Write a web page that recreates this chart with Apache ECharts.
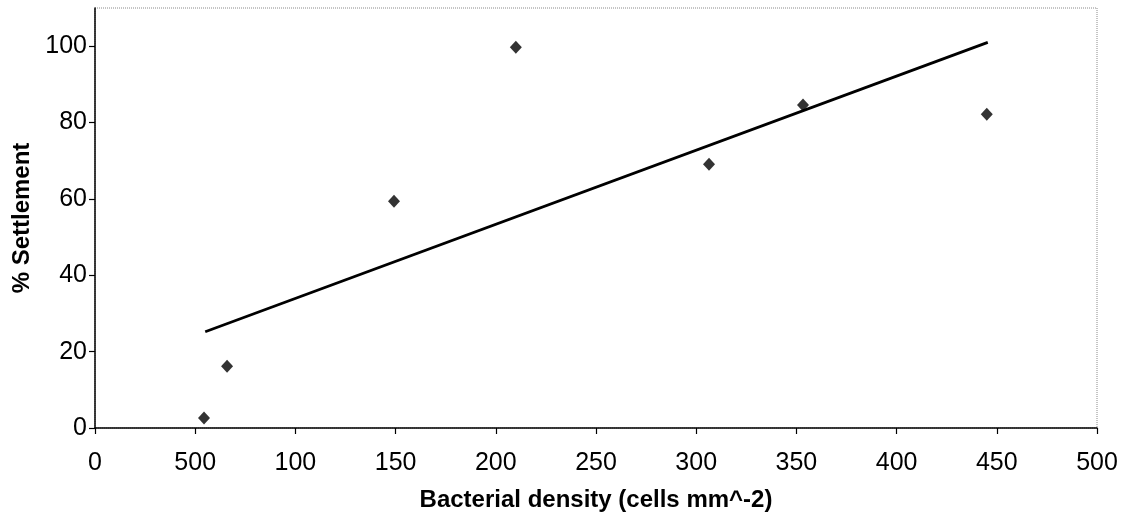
<!DOCTYPE html>
<html>
<head>
<meta charset="utf-8">
<script src="https://cdn.jsdelivr.net/npm/echarts@6/dist/echarts.min.js"></script>
<style>html,body{margin:0;padding:0;background:#fff}#c{width:1123px;height:519px}</style>
</head>
<body>
<div id="c"></div>
<script>
// Data
var densityX = [54.4, 65.9, 149.2, 210, 306.4, 353.3, 445];
var settlementY = [2.6, 16.2, 59.4, 99.7, 69.1, 84.6, 82.2];
var trendX = [55, 445.5];
var trendY = [25.2, 101.0];
var xTickLabels = ['0', '500', '100', '150', '200', '250', '300', '350', '400', '450', '500'];
var yTickValues = [0, 20, 40, 60, 80, 100];
var yTickLabels = ['0', '20', '40', '60', '80', '100'];

var chart = echarts.init(document.getElementById('c'), null, {renderer: 'canvas'});
var font = 'Liberation Sans, Arial, sans-serif';
chart.setOption({
  animation: false,
  backgroundColor: '#ffffff',
  grid: {left: 95, right: 26, top: 8, bottom: 91, show: true, borderColor: '#8a8a8a', borderWidth: 1, borderType: 'dotted', backgroundColor: '#fff'},
  xAxis: {
    type: 'value', min: 0, max: 500, interval: 50,
    name: 'Bacterial density (cells mm^-2)', nameLocation: 'middle', nameGap: 60,
    nameTextStyle: {fontFamily: font, fontSize: 24, fontWeight: 'bold', color: '#000'},
    axisLine: {show: true, lineStyle: {color: '#000', width: 1.5}},
    axisTick: {show: true, length: 6, lineStyle: {color: '#000', width: 1.2}},
    splitLine: {show: false},
    axisLabel: {fontFamily: font, fontSize: 25, color: '#000', margin: 23,
      formatter: function (v) { var i = Math.round(v / 50); return xTickLabels[i] !== undefined ? xTickLabels[i] : ''; }}
  },
  yAxis: {
    type: 'value', min: 0, max: 110, interval: 20,
    name: '% Settlement', nameLocation: 'middle', nameGap: 60,
    nameTextStyle: {fontFamily: font, fontSize: 24, fontWeight: 'bold', color: '#000'},
    axisLine: {show: true, lineStyle: {color: '#000', width: 1.5}},
    axisTick: {show: true, length: 6, customValues: yTickValues, lineStyle: {color: '#000', width: 1.2}},
    splitLine: {show: false},
    axisLabel: {fontFamily: font, fontSize: 25, color: '#000', margin: 8, customValues: yTickValues,
      padding: [5, 0, 0, 0],
      formatter: function (v) { var i = yTickValues.indexOf(v); return i >= 0 ? yTickLabels[i] : ''; }}
  },
  series: [
    {
      type: 'line',
      data: trendX.map(function (x, i) { return [x, trendY[i]]; }),
      showSymbol: false, symbol: 'none',
      lineStyle: {color: '#000', width: 2.8},
      z: 2
    },
    {
      type: 'scatter',
      data: densityX.map(function (x, i) { return [x, settlementY[i]]; }),
      symbol: 'diamond', symbolSize: [12, 13],
      itemStyle: {color: '#000'},
      z: 3
    }
  ]
});
</script>
</body>
</html>
